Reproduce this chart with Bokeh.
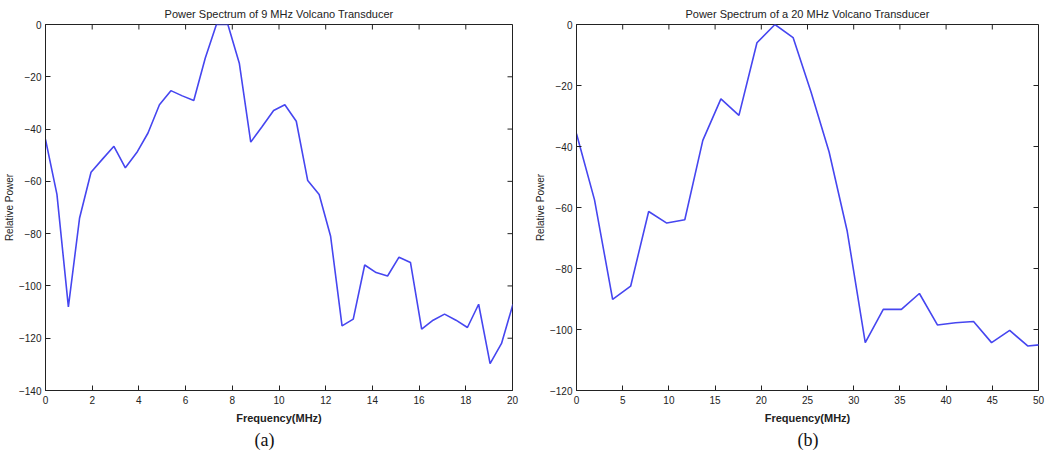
import math
from bokeh.plotting import figure
from bokeh.layouts import row
from bokeh.models import Title, FixedTicker, Range1d
from bokeh.embed import file_html
from bokeh.resources import INLINE

# ---- Panel (a): 9 MHz transducer ----
freq_a = [0.00, 0.49, 0.98, 1.46, 1.95, 2.44, 2.93, 3.42, 3.91, 4.39,
          4.88, 5.37, 5.86, 6.35, 6.84, 7.32, 7.81, 8.30, 8.79, 9.28,
          9.77, 10.25, 10.74, 11.23, 11.72, 12.21, 12.70, 13.18, 13.67, 14.16,
          14.65, 15.14, 15.63, 16.11, 16.60, 17.09, 17.58, 18.07, 18.55, 19.04,
          19.53, 20.02]
power_a = [-44, -65, -108, -74, -56.5, -51.5, -46.6, -54.8, -49, -41.5,
           -30.7, -25.3, -27.3, -29.1, -12.9, 0, 0, -14.8, -45, -39,
           -32.9, -30.7, -37, -59.7, -65, -81, -115.3, -112.7, -92, -94.9,
           -96.2, -89, -91, -116.5, -113.1, -110.8, -113.1, -115.9, -107, -129.7,
           -122, -107]
xticks_a = [0, 2, 4, 6, 8, 10, 12, 14, 16, 18, 20]
yticks_a = [-140, -120, -100, -80, -60, -40, -20, 0]

# ---- Panel (b): 20 MHz transducer ----
freq_b = [0.00, 1.95, 3.91, 5.86, 7.81, 9.77, 11.72, 13.67, 15.63, 17.58,
          19.53, 21.48, 23.44, 25.39, 27.34, 29.30, 31.25, 33.20, 35.16, 37.11,
          39.06, 41.02, 42.97, 44.92, 46.88, 48.83, 50.78]
power_b = [-35.8, -57.5, -90.1, -85.8, -61.3, -65.1, -64.0, -38, -24.4, -29.8,
           -6, 0, -4.3, -22.2, -41.8, -67.8, -104.3, -93.4, -93.4, -88.2,
           -98.5, -97.8, -97.4, -104.3, -100.3, -105.4, -104.8]
xticks_b = [0, 5, 10, 15, 20, 25, 30, 35, 40, 45, 50]
yticks_b = [-120, -100, -80, -60, -40, -20, 0]

LINE_COLOR = "#4646f0"
FONT = "Liberation Sans"
INK = "#222222"


def style_axis(ax, ticks, label_standoff, axis_label_standoff):
    ax.ticker = FixedTicker(ticks=ticks)
    ax.major_tick_in = 5
    ax.major_tick_out = 0
    ax.minor_tick_line_color = None
    ax.major_tick_line_color = INK
    ax.axis_line_color = INK
    ax.major_label_text_font = FONT
    ax.major_label_text_color = INK
    ax.major_label_text_font_size = "10px"
    ax.major_label_standoff = label_standoff
    ax.axis_label_text_font = FONT
    ax.axis_label_text_color = INK
    ax.axis_label_standoff = axis_label_standoff


def make_panel(freq, power, xr, yr, xticks, yticks, title, caption,
               width, borders, cap_offset):
    bl, br, bt, bb = borders
    p = figure(width=width, height=450,
               x_range=Range1d(*xr), y_range=Range1d(*yr),
               output_backend="svg", toolbar_location=None,
               min_border_left=bl, min_border_right=br,
               min_border_top=bt, min_border_bottom=bb)
    p.title.text = title
    p.title.align = "center"
    p.title.text_font = FONT
    p.title.text_font_size = "11px"
    p.title.text_font_style = "normal"
    p.title.text_color = INK
    p.title.standoff = 10
    p.xgrid.visible = False
    p.ygrid.visible = False
    p.outline_line_color = INK
    p.outline_line_alpha = 1.0
    p.background_fill_color = "white"
    p.border_fill_color = "white"

    p.line(freq, power, line_color=LINE_COLOR, line_width=1.6)

    style_axis(p.xaxis[0], xticks, 5, 5)
    style_axis(p.yaxis[0], yticks, 4, 1)
    p.xaxis[0].axis_label = "Frequency(MHz)"
    p.xaxis[0].axis_label_text_font_size = "11px"
    p.xaxis[0].axis_label_text_font_style = "bold"
    p.yaxis[0].axis_label = "Relative Power"
    p.yaxis[0].axis_label_text_font_size = "10px"
    p.yaxis[0].axis_label_text_font_style = "normal"

    # inward ticks on the top and right edges of the box (MATLAB style)
    p.ray(x=xticks, y=[yr[1]] * len(xticks), length=5, length_units="screen",
          angle=-math.pi / 2, line_color=INK, line_width=1)
    p.ray(x=[xr[1]] * len(yticks), y=yticks, length=5, length_units="screen",
          angle=math.pi, line_color=INK, line_width=1)

    cap = Title(text=caption, align="left", offset=cap_offset,
                text_font="Liberation Serif", text_font_size="18px",
                text_font_style="normal", text_color="#111111", standoff=2)
    p.add_layout(cap, "below")
    return p


p1 = make_panel(freq_a, power_a, (0, 20), (-140, 0), xticks_a, yticks_a,
                "Power Spectrum of 9 MHz Volcano Transducer", "(a)",
                525, (45, 13, 23, 60), 209)
p2 = make_panel(freq_b, power_b, (0, 50), (-120, 0), xticks_b, yticks_b,
                "Power Spectrum of a 20 MHz Volcano Transducer", "(b)",
                524, (51, 11, 22, 60), 221)

layout = row(p1, p2)
open("out.html", "w").write(file_html(layout, INLINE))
